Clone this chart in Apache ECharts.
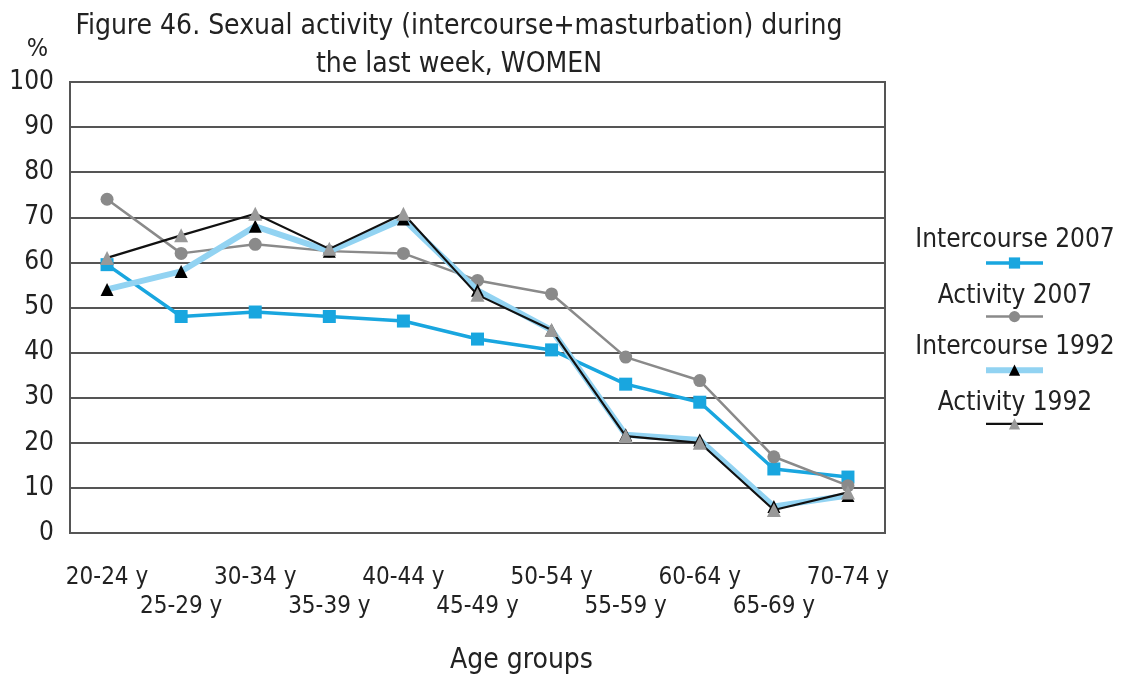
<!DOCTYPE html>
<html><head><meta charset="utf-8">
<script src="https://cdn.jsdelivr.net/npm/echarts@6/dist/echarts.min.js"></script>
<style>html,body{margin:0;padding:0;background:#fff}#c{width:1127px;height:675px}</style>
</head><body><div id="c"></div>
<script>
const categories = ['20-24 y','25-29 y','30-34 y','35-39 y','40-44 y','45-49 y','50-54 y','55-59 y','60-64 y','65-69 y','70-74 y'];
const intercourse2007 = [59.5, 48, 49, 48, 47, 43, 40.6, 33, 29, 14.2, 12.4];
const activity2007 = [74, 62, 64, 62.5, 62, 56, 53, 39, 33.8, 16.9, 10.5];
const intercourse1992 = [54, 58, 68, 62.5, 69.6, 53.8, 45, 21.8, 20.6, 5.9, 8.3];
const activity1992 = [61, 66, 70.8, 63, 70.8, 52.8, 45, 21.5, 20, 5.1, 9];
const yTicks = [0,10,20,30,40,50,60,70,80,90,100];
const seriesNames = ['Intercourse 2007','Activity 2007','Intercourse 1992','Activity 1992'];

const FONT = '"DejaVu Sans Condensed", "DejaVu Sans", sans-serif';
const chart = echarts.init(document.getElementById('c'));
const legendTextY = [240, 296, 347, 403];
chart.setOption({
  animation: false,
  backgroundColor: '#fff',
  title: {
    text: 'Figure 46. Sexual activity (intercourse+masturbation) during\nthe last week, WOMEN',
    left: 454, top: 3, textAlign: 'center',
    textStyle: {fontFamily: FONT, fontWeight: 'normal', fontSize: 28, color: '#222', lineHeight: 38}
  },
  grid: {left: 70, right: 242, top: 82, bottom: 142, show: true, borderColor: '#555', borderWidth: 2,
         outerBoundsMode: 'none', containLabel: false},
  legend: {
    orient: 'vertical', left: 978, top: 251,
    itemWidth: 57, itemHeight: 14, itemGap: 41,
    formatter: function(){ return ''; },
    lineStyle: {width: 'inherit'},
    data: seriesNames,
    selectedMode: false
  },
  xAxis: {
    type: 'category', data: categories,
    axisLine: {show: true, lineStyle: {color: '#555', width: 2}},
    axisTick: {show: false},
    axisLabel: {
      interval: 0, fontFamily: FONT, fontSize: 24, color: '#222', margin: 30, lineHeight: 29,
      formatter: function(v, i){ return i % 2 === 1 ? '\n' + v : v + '\n'; }
    },
    name: 'Age groups', nameLocation: 'middle', nameGap: 114,
    nameTextStyle: {fontFamily: FONT, fontSize: 28, color: '#222', padding: [0,0,0,88]}
  },
  yAxis: {
    type: 'value', min: 0, max: 100, interval: 10,
    name: '%', nameLocation: 'end', nameGap: 20,
    nameTextStyle: {fontFamily: FONT, fontSize: 25, color: '#222', align: 'right', padding: [0, 22, 0, 0]},
    axisLine: {show: true, lineStyle: {color: '#555', width: 2}},
    axisTick: {show: false},
    axisLabel: {fontFamily: FONT, fontSize: 26, color: '#222', margin: 16,
      formatter: function(v){ return yTicks.indexOf(v) >= 0 ? String(v) : ''; }},
    splitLine: {lineStyle: {color: '#555', width: 2}}
  },
  graphic: seriesNames.map(function(n, i){
    return {type: 'text', x: 1015, y: legendTextY[i],
      style: {text: n, font: '26px ' + FONT, fill: '#222', textAlign: 'center', textVerticalAlign: 'middle'}};
  }),
  series: [
    {name: seriesNames[0], type: 'line', data: intercourse2007, symbol: 'rect', symbolSize: 13,
     lineStyle: {color: '#19a6df', width: 3.5}, itemStyle: {color: '#19a6df'}, z: 2},
    {name: seriesNames[1], type: 'line', data: activity2007, symbol: 'circle', symbolSize: 13,
     lineStyle: {color: '#8a8a8a', width: 2.5}, itemStyle: {color: '#8a8a8a'}, z: 3},
    {name: seriesNames[2], type: 'line', data: intercourse1992, symbol: 'triangle', symbolSize: 13,
     lineStyle: {color: '#92d3f2', width: 6}, itemStyle: {color: '#000'}, z: 4},
    {name: seriesNames[3], type: 'line', data: activity1992, symbol: 'triangle', symbolSize: 14,
     lineStyle: {color: '#111', width: 2.2}, itemStyle: {color: '#999'}, z: 5}
  ]
});
</script></body></html>
